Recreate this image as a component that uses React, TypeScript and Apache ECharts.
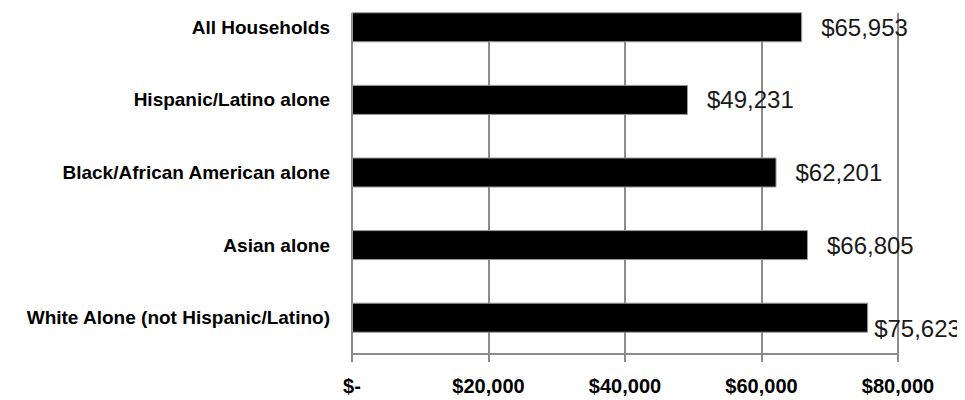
import React, { useEffect, useRef } from "react";
import * as echarts from "echarts";

const categories = [
  "All Households",
  "Hispanic/Latino alone",
  "Black/African American alone",
  "Asian alone",
  "White Alone (not Hispanic/Latino)",
];
const incomes = [65953, 49231, 62201, 66805, 75623];
const xTicks = { min: 0, max: 80000, interval: 20000 };

const fmtMoney = (v: number) =>
  v === 0 ? "$-" : "$" + v.toLocaleString("en-US");

// the chart canvas is shifted up by SHIFT px so that the first band is cropped like the reference
const SHIFT = 9;

export default function App() {
  const ref = useRef<HTMLDivElement>(null);
  useEffect(() => {
    if (!ref.current) return;
    const chart = echarts.init(ref.current, null, { renderer: "svg" });
    chart.setOption({
      animation: false,
      backgroundColor: "#fff",
      grid: { left: 352, right: 67, top: 0, bottom: 46, containLabel: false },
      xAxis: {
        type: "value",
        min: xTicks.min,
        max: xTicks.max,
        interval: xTicks.interval,
        axisLine: { show: true, lineStyle: { color: "#8c8c8c", width: 2 } },
        axisTick: { show: true, length: 8, lineStyle: { color: "#8c8c8c", width: 2 } },
        splitLine: { show: true, lineStyle: { color: "#8c8c8c", width: 2 } },
        axisLabel: {
          formatter: (v: number) => fmtMoney(v),
          fontFamily: "Liberation Sans, Arial, sans-serif",
          fontWeight: "bold",
          fontSize: 20,
          color: "#000",
          margin: 22,
        },
      },
      yAxis: {
        type: "category",
        data: categories,
        inverse: true,
        axisLine: { show: true, lineStyle: { color: "#8c8c8c", width: 2 } },
        axisTick: { show: false },
        axisLabel: {
          fontFamily: "Liberation Sans, Arial, sans-serif",
          fontWeight: "bold",
          fontSize: 19,
          color: "#000",
          margin: 22,
        },
      },
      graphic: [
        {
          type: "rect",
          z: 1,
          shape: { x: 330, y: 0, width: 600, height: SHIFT + 13 },
          style: { fill: "#fff" },
        },
      ],
      series: [
        {
          type: "bar",
          z: 3,
          barWidth: 30,
          data: incomes.map((v, i) =>
            i === incomes.length - 1
              ? { value: v, label: { offset: [-13, 11] } }
              : { value: v }
          ),
          itemStyle: { color: "#000", borderColor: "#999", borderWidth: 1 },
          label: {
            show: true,
            position: "right",
            distance: 19,
            formatter: (p: any) => fmtMoney(p.value),
            fontFamily: "Liberation Sans, Arial, sans-serif",
            fontSize: 24,
            color: "#1a1a1a",
          },
        },
      ],
    });
    return () => chart.dispose();
  }, []);
  return (
    <div
      ref={ref}
      style={{
        width: 965,
        height: 400 + SHIFT,
        marginLeft: -8,
        marginTop: -8 - SHIFT,
      }}
    />
  );
}
